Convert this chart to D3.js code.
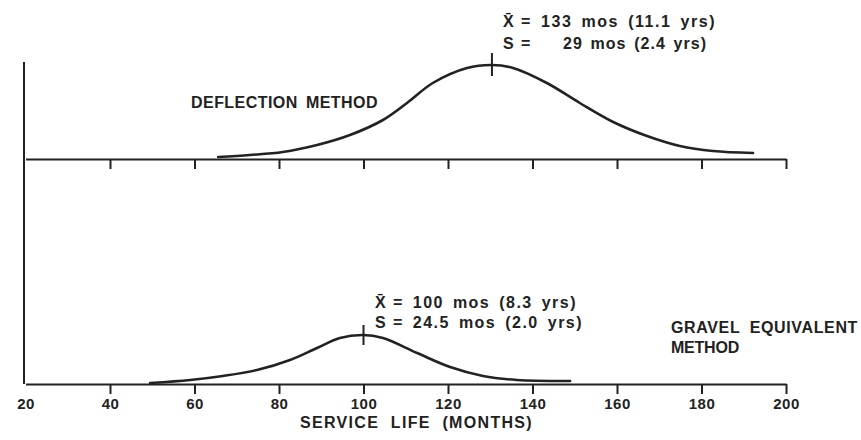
<!DOCTYPE html>
<html>
<head>
<meta charset="utf-8">
<script src="https://cdn.jsdelivr.net/npm/d3@7"></script>
<style>
  body { margin: 0; background: #fff; }
  text { font-family: 'Liberation Sans', Arial, Helvetica, sans-serif; font-weight: bold; fill: #222; }
</style>
</head>
<body>
<svg id="chart" width="861" height="440"></svg>
<script>
// service life axis (months)
const xTicks = [20, 40, 60, 80, 100, 120, 140, 160, 180, 200]

// deflection method, relative frequency
const deflectionMonths = [65.6, 73.1, 80.9, 89.0, 96.8, 104.6, 110.3, 116.4, 124.5, 130.4, 135.4, 143.4, 151.2, 159.1, 167.1, 174.9, 182.7, 192.2]
const deflectionFreq = [2, 4, 7, 14, 24, 39, 56, 76, 91, 94, 91, 76, 56, 37, 23, 13, 8, 6]
const deflectionMark = 130.4

// gravel equivalent method
const gravelMonths = [49.5, 59.0, 66.7, 74.8, 82.6, 89.0, 94.4, 99.9, 104.6, 112.7, 120.5, 128.3, 136.3, 148.9]
const gravelFreq = [1, 4, 8, 14, 24, 36, 46, 49, 46, 31, 17, 8, 4, 3]
const gravelMark = 100

const svg = d3.select('#chart')
const ink = '#222'

const x = d3.scaleLinear().domain([20, 200]).range([25.5, 786])
const yTop = d3.scaleLinear().domain([0, 100]).range([159, 59])
const yBot = d3.scaleLinear().domain([0, 100]).range([384, 284])

// vertical axis shared by both panels
svg.append('line')
  .attr('x1', x(20) - 1.5).attr('x2', x(20) - 1.5)
  .attr('y1', yTop(97)).attr('y2', yBot(0))
  .attr('stroke', ink).attr('stroke-width', 2)

// top axis, ticks only
const topAxis = svg.append('g')
  .attr('transform', 'translate(0,' + yTop(0) + ')')
  .call(d3.axisBottom(x).tickValues(xTicks.slice(1)).tickSize(10).tickSizeOuter(0).tickFormat(''))

// bottom axis with labels
const botAxis = svg.append('g')
  .attr('transform', 'translate(0,' + yBot(0) + ')')
  .call(d3.axisBottom(x).tickValues(xTicks).tickSize(10).tickSizeOuter(0).tickPadding(4))

botAxis.selectAll('.tick').filter(d => d === 20).select('line').remove()
botAxis.selectAll('.tick text')
  .attr('font-size', 15).attr('font-family', null).attr('fill', ink)
  .style('font-weight', 600).attr('letter-spacing', 0.5)

;[topAxis, botAxis].forEach(g => {
  g.select('.domain').attr('stroke', ink).attr('stroke-width', 2)
  g.selectAll('.tick line').attr('stroke', ink).attr('stroke-width', 2)
})

const lineTop = d3.line().x(d => x(d[0])).y(d => yTop(d[1])).curve(d3.curveCatmullRom)
const lineBot = d3.line().x(d => x(d[0])).y(d => yBot(d[1])).curve(d3.curveCatmullRom)

svg.append('path')
  .datum(d3.zip(deflectionMonths, deflectionFreq))
  .attr('d', lineTop)
  .attr('fill', 'none').attr('stroke', ink).attr('stroke-width', 2.6).attr('stroke-linecap', 'round')

svg.append('path')
  .datum(d3.zip(gravelMonths, gravelFreq))
  .attr('d', lineBot)
  .attr('fill', 'none').attr('stroke', ink).attr('stroke-width', 2.6).attr('stroke-linecap', 'round')

// mean markers
svg.append('line')
  .attr('x1', x(deflectionMark)).attr('x2', x(deflectionMark))
  .attr('y1', yTop(106)).attr('y2', yTop(83))
  .attr('stroke', ink).attr('stroke-width', 2)
svg.append('line')
  .attr('x1', x(gravelMark)).attr('x2', x(gravelMark))
  .attr('y1', yBot(59)).attr('y2', yBot(39))
  .attr('stroke', ink).attr('stroke-width', 2)

// fit a label to a width: mostly letter spacing, the rest between words
function label (txt, px, py, len) {
  const t = svg.append('text')
    .attr('x', px).attr('y', py)
    .attr('font-size', 16)
    .text(txt)
  if (len) {
    const gaps = txt.split(' ').length - 1
    const share = gaps > 0 ? 0.7 : 1
    const extra = len - t.node().getComputedTextLength()
    t.attr('letter-spacing', share * extra / txt.length)
    if (gaps > 0) {
      const rest = len - t.node().getComputedTextLength()
      t.attr('word-spacing', rest / gaps)
    }
  }
  return t
}

label('DEFLECTION METHOD', 191, 108, 187)
label('X\u0304', 503, 27)
label('= 133 mos (11.1 yrs)', 521, 27, 195)
label('S', 503, 49)
label('=', 521, 49)
label('29 mos (2.4 yrs)', 563, 49, 144)

label('X\u0304', 375, 308)
label('= 100 mos (8.3 yrs)', 393, 308, 184)
label('S', 375, 328)
label('= 24.5 mos (2.0 yrs)', 393, 328, 190)

label('GRAVEL EQUIVALENT', 671, 333, 187)
label('METHOD', 671, 353, 68)

label('SERVICE LIFE (MONTHS)', 300, 428, 233)
</script>
</body>
</html>
